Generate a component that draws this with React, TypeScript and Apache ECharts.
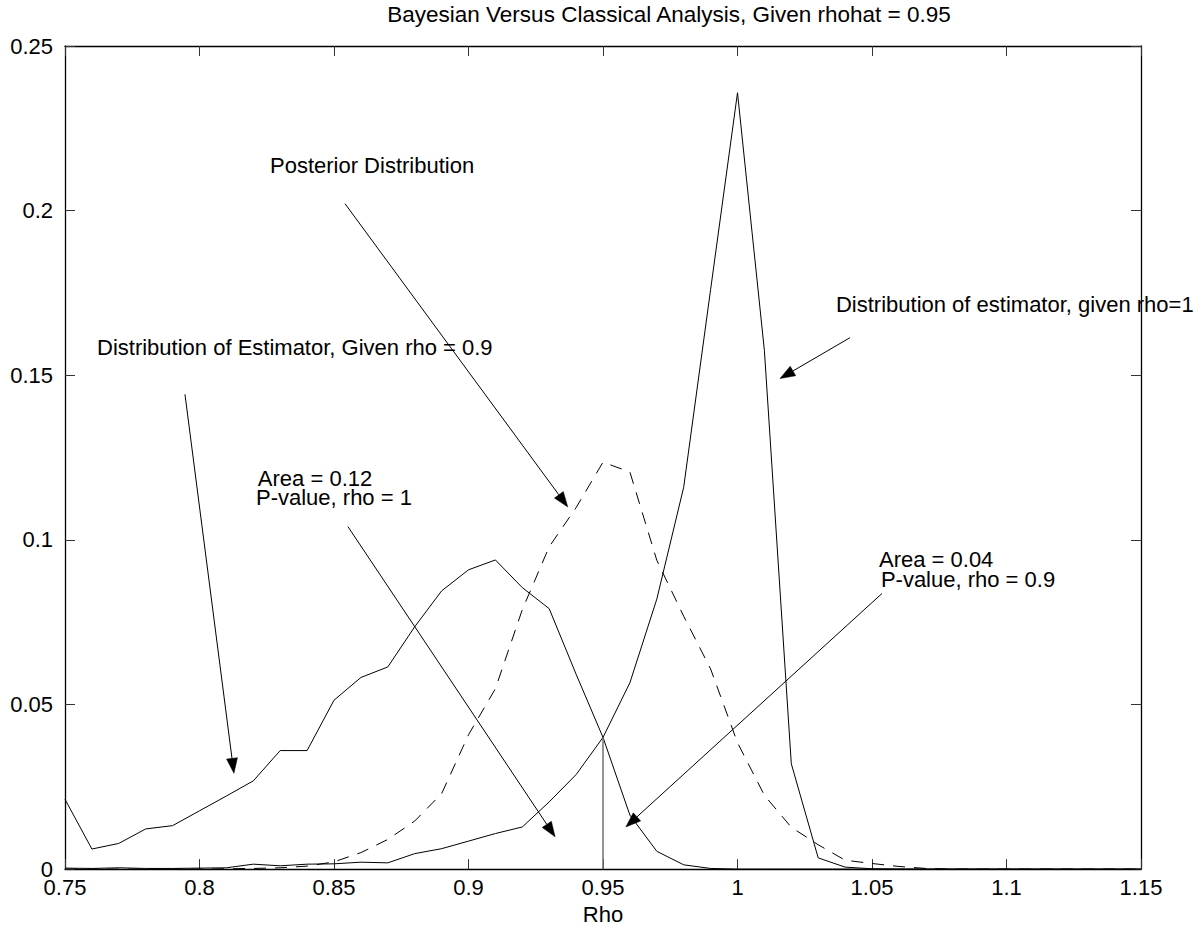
import React, { useEffect, useRef } from "react";
import * as echarts from "echarts";

// Rho grid (x values)
const rhoGrid = [
  0.75, 0.76, 0.77, 0.78, 0.79, 0.8, 0.81, 0.82, 0.83, 0.84,
  0.85, 0.86, 0.87, 0.88, 0.89, 0.9, 0.91, 0.92, 0.93, 0.94,
  0.95, 0.96, 0.97, 0.98, 0.99, 1.0, 1.01, 1.02, 1.03, 1.04,
  1.05, 1.06, 1.07, 1.08, 1.09, 1.1, 1.11, 1.12, 1.13, 1.14, 1.15,
];

// Distribution of estimator, given rho = 0.9 (solid)
const estGiven09 = [
  0.0212, 0.0061, 0.0078, 0.0122, 0.0132, 0.0177, 0.0222, 0.0268, 0.036, 0.036,
  0.0513, 0.0582, 0.0614, 0.0736, 0.0845, 0.0909, 0.0939, 0.0855, 0.0791, 0.0592,
  0.04, 0.0164, 0.0054, 0.0013, 0.0002, 0, 0, 0, 0, 0,
  0, 0, 0, 0, 0, 0, 0, 0, 0, 0, 0,
];

// Distribution of estimator, given rho = 1 (solid)
const estGiven1 = [
  0.0003, 0.0002, 0.0004, 0.0002, 0.0002, 0.0003, 0.0004, 0.0015, 0.001, 0.0015,
  0.0016, 0.0021, 0.0019, 0.0047, 0.0062, 0.0085, 0.0108, 0.0128, 0.0204, 0.0287,
  0.04, 0.0566, 0.082, 0.116, 0.176, 0.2358, 0.1575, 0.032, 0.0034, 0.0006,
  0.0001, 0, 0, 0, 0, 0, 0, 0, 0, 0, 0,
];

// Posterior distribution (dashed)
const posterior = [
  0, 0, 0, 0, 0, 0, 0.0001, 0.0002, 0.0004, 0.0009,
  0.0022, 0.005, 0.009, 0.0146, 0.0229, 0.0408, 0.0548, 0.0788, 0.0979, 0.1098,
  0.1236, 0.1206, 0.0938, 0.0768, 0.0608, 0.0384, 0.0224, 0.0127, 0.0074, 0.0027,
  0.0017, 0.0008, 0.0002, 0, 0, 0, 0, 0, 0, 0, 0,
];

// Observed rhohat and the height of the cut line
const rhohat = 0.95;
const cutHeight = 0.04;

// Axis ticks
const xMin = 0.75, xMax = 1.15, xStep = 0.05;
const yMin = 0, yMax = 0.25, yStep = 0.05;

const titleText = "Bayesian Versus Classical Analysis, Given rhohat = 0.95";
const xName = "Rho";

// Annotation texts (data coordinates: left edge, vertical middle)
const notes = [
  { text: "Posterior Distribution", at: [0.8262, 0.2136] },
  { text: "Distribution of Estimator, Given rho = 0.9", at: [0.7619, 0.1583] },
  { text: "Distribution of estimator, given rho=1", at: [1.0366, 0.1715] },
  { text: "Area = 0.12", at: [0.8217, 0.1185] },
  { text: "P-value, rho = 1", at: [0.821, 0.113] },
  { text: "Area = 0.04", at: [1.0526, 0.094] },
  { text: "P-value, rho = 0.9", at: [1.0533, 0.088] },
];

// Annotation arrows (data coordinates)
const arrows = [
  { from: [0.8541, 0.2021], to: [0.9369, 0.11] },
  { from: [0.7946, 0.1442], to: [0.8128, 0.0291] },
  { from: [0.8552, 0.104], to: [0.9322, 0.0098] },
  { from: [1.0537, 0.0837], to: [0.9585, 0.0128] },
  { from: [1.0418, 0.1614], to: [1.0158, 0.149] },
];

const FONT = "'Liberation Sans', Arial, Helvetica, sans-serif";
const FS = 22;

export default function App() {
  const ref = useRef<HTMLDivElement>(null);

  useEffect(() => {
    document.body.style.margin = "0";
    const chart = echarts.init(ref.current!, undefined, { renderer: "svg" });
    const pair = (ys: number[]) => rhoGrid.map((x, i) => [x, ys[i]]);
    const axisCommon = {
      axisLine: { show: true, onZero: false, lineStyle: { color: "#000", width: 1.3 } },
      axisTick: { show: true, inside: true, length: 10, lineStyle: { color: "#333", width: 1 } },
      splitLine: { show: false },
    };
    chart.setOption({
      animation: false,
      backgroundColor: "#fff",
      grid: { left: 65, right: 63, top: 46, bottom: 56, containLabel: false },
      xAxis: [
        {
          type: "value", min: xMin, max: xMax, interval: xStep, position: "bottom",
          ...axisCommon,
          axisLabel: { color: "#000", fontSize: FS, fontFamily: FONT, margin: 7 },
          name: xName, nameLocation: "middle", nameGap: 27,
          nameTextStyle: { color: "#000", fontSize: FS, fontFamily: FONT },
        },
        {
          type: "value", min: xMin, max: xMax, interval: xStep, position: "top",
          ...axisCommon, axisLabel: { show: false },
        },
      ],
      yAxis: [
        {
          type: "value", min: yMin, max: yMax, interval: yStep, position: "left",
          ...axisCommon,
          axisLabel: { color: "#000", fontSize: FS, fontFamily: FONT, margin: 12 },
        },
        {
          type: "value", min: yMin, max: yMax, interval: yStep, position: "right",
          ...axisCommon, axisLabel: { show: false },
        },
      ],
      series: [
        {
          type: "line", data: pair(estGiven09), symbol: "none",
          lineStyle: { color: "#000", width: 1 },
        },
        {
          type: "line", data: pair(posterior), symbol: "none",
          lineStyle: { color: "#000", width: 1, type: [12, 9] },
        },
        {
          type: "line", data: pair(estGiven1), symbol: "none",
          lineStyle: { color: "#000", width: 1 },
        },
        {
          type: "line", data: [[rhohat, 0], [rhohat, cutHeight]], symbol: "none",
          lineStyle: { color: "#707070", width: 1.5 },
        },
      ],
    });

    const toPx = (p: number[]) =>
      chart.convertToPixel({ xAxisIndex: 0, yAxisIndex: 0 }, p) as number[];
    const g: any[] = [
      {
        type: "text", x: 669, y: 14,
        style: { text: titleText, fill: "#000", font: `22.5px ${FONT}`, textAlign: "center", textVerticalAlign: "middle" },
      },
    ];
    notes.forEach((n) => {
      const [x, y] = toPx(n.at);
      g.push({
        type: "text", x, y,
        style: { text: n.text, fill: "#000", font: `${FS}px ${FONT}`, textAlign: "left", textVerticalAlign: "middle" },
      });
    });
    arrows.forEach((a) => {
      const [x1, y1] = toPx(a.from);
      const [x2, y2] = toPx(a.to);
      const dx = x2 - x1, dy = y2 - y1;
      const len = Math.hypot(dx, dy);
      const ux = dx / len, uy = dy / len;
      const L = 15, W = 5.5;
      const bx = x2 - ux * L, by = y2 - uy * L;
      g.push({
        type: "line", silent: true,
        shape: { x1, y1, x2: bx, y2: by },
        style: { stroke: "#000", lineWidth: 1 },
      });
      g.push({
        type: "polygon", silent: true,
        shape: { points: [[x2, y2], [bx - uy * W, by + ux * W], [bx + uy * W, by - ux * W]] },
        style: { fill: "#000", stroke: "#000", lineWidth: 0.5 },
      });
    });
    chart.setOption({ graphic: g });

    return () => chart.dispose();
  }, []);

  return <div ref={ref} style={{ width: 1204, height: 930 }} />;
}
